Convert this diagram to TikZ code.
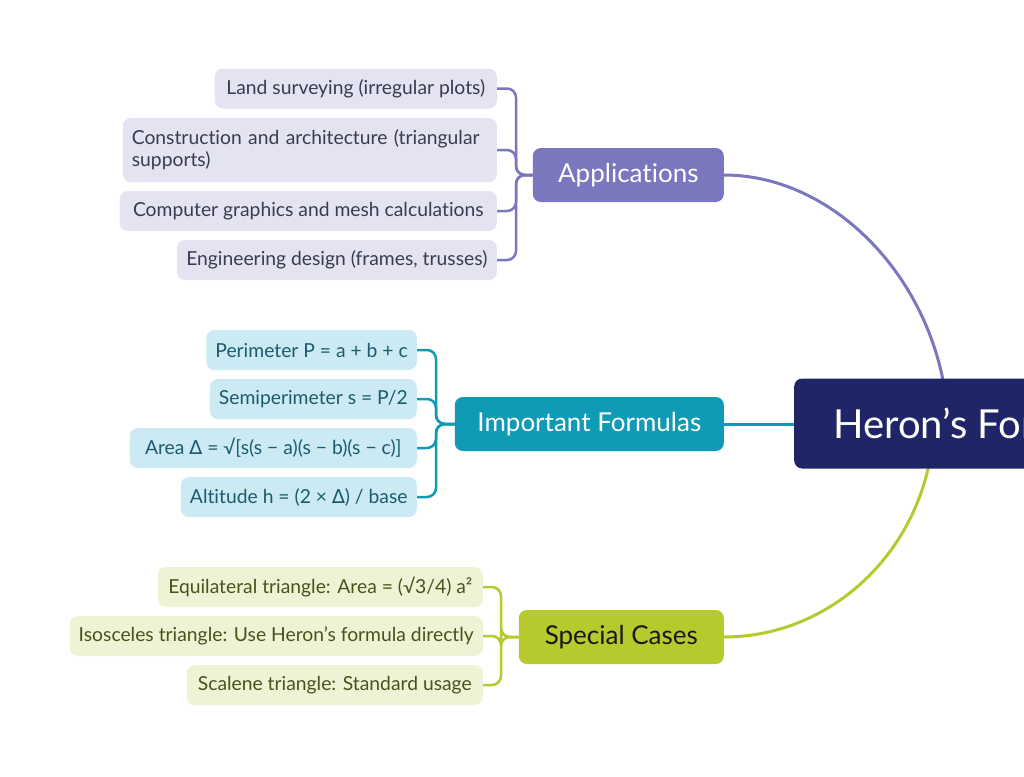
\documentclass[tikz,border=0pt]{standalone}
\usepackage{fontspec}
\setmainfont{Lato}[Ligatures={TeX,NoCommon}]
\newfontfamily\symf{DejaVu Sans}
\newcommand{\Dlt}{{\symf\char"2206}}
\definecolor{appc}{HTML}{7B77BE}
\definecolor{appl}{HTML}{E4E3F1}
\definecolor{appt}{HTML}{3B3B4F}
\definecolor{formc}{HTML}{0F9AB6}
\definecolor{forml}{HTML}{CBEAF3}
\definecolor{formt}{HTML}{1B5C6B}
\definecolor{specc}{HTML}{B6CA2E}
\definecolor{specl}{HTML}{EEF3D6}
\definecolor{spect}{HTML}{4A521C}
\definecolor{hubc}{HTML}{1F2566}
\begin{document}
\begin{tikzpicture}[x=1pt,y=-1pt,
  leaf/.style={rounded corners=8pt,inner xsep=9pt,inner ysep=0pt,minimum height=40pt,anchor=east,font=\fontsize{19.3}{22}\selectfont},
  appleaf/.style={leaf,fill=appl,text=appt},
  formleaf/.style={leaf,fill=forml,text=formt},
  specleaf/.style={leaf,fill=specl,text=spect},
  branch/.style={rounded corners=8pt,minimum height=54pt,anchor=east,font=\fontsize{26}{30}\selectfont},
  brk/.style={line width=2.5pt,rounded corners=9pt},
  link/.style={line width=3pt}]
\useasboundingbox (0,0) rectangle (1024,776);
\clip (0,0) rectangle (1024,776);
\fill[white] (0,0) rectangle (1024,776);

% branches
\node[branch,fill=appc,text=white,minimum width=191pt] (app) at (724,175) {Applications};
\node[branch,fill=formc,text=white,minimum width=269pt] (form) at (724,424) {Important Formulas};
\node[branch,fill=specc,text=black!90,minimum width=205pt] (spec) at (724,637) {Special Cases};

% application leaves
\node[appleaf,minimum width=282pt] (a1) at (497,88.5) {Land surveying (irregular plots)};
\node[appleaf,minimum height=64pt,text width=356pt,align=left] (a2) at (497,150) {Construction and architecture (triangular\\supports)};
\node[appleaf,minimum width=377pt] (a3) at (497,211) {Computer graphics and mesh calculations};
\node[appleaf,minimum width=320pt] (a4) at (497,260) {Engineering design (frames, trusses)};

% formula leaves
\node[formleaf,minimum width=210pt] (f1) at (417,350) {Perimeter P = a + b + c};
\node[formleaf,minimum width=199pt] (f2) at (417,399) {Semiperimeter s = P/2};
\node[formleaf,minimum width=287pt] (f3) at (417,448) {Area \Dlt{} = √[s(s − a)(s − b)(s − c)]};
\node[formleaf,minimum width=236pt] (f4) at (417,497) {Altitude h = (2 × \Dlt) / base};

% special leaves
\node[specleaf,minimum width=325pt] (s1) at (483,587) {Equilateral triangle: Area = (√3/4) a²};
\node[specleaf,minimum width=413pt] (s2) at (483,636) {Isosceles triangle: Use Heron's formula directly};
\node[specleaf,minimum width=296pt] (s3) at (483,685) {Scalene triangle: Standard usage};

% brackets
\coordinate (ta) at (516,175);
\coordinate (tf) at (436,424);
\coordinate (ts) at (501,637);
\foreach \l in {a1,a2,a3,a4}{\draw[brk,appc] (\l.east) -| (ta) -- (app.west);}
\foreach \l in {f1,f2,f3,f4}{\draw[brk,formc] (\l.east) -| (tf) -- (form.west);}
\foreach \l in {s1,s2,s3}{\draw[brk,specc] (\l.east) -| (ts) -- (spec.west);}

% main links
\coordinate (hp) at (948,423);
\coordinate (hs) at (934,423);
\draw[link,appc] (app.east) .. controls (840,175) and (943,290) .. (hp);
\draw[link,specc] (spec.east) .. controls (835,637) and (930,545) .. (hs);
\draw[link,formc] (form.east) -- (800,424);

% hub
\node[rounded corners=8pt,fill=hubc,text=white,anchor=west,minimum height=90pt,inner xsep=39pt,font=\fontsize{40}{46}\selectfont] (hub) at (794,423.5) {Heron's Formula};
\end{tikzpicture}
\end{document}
